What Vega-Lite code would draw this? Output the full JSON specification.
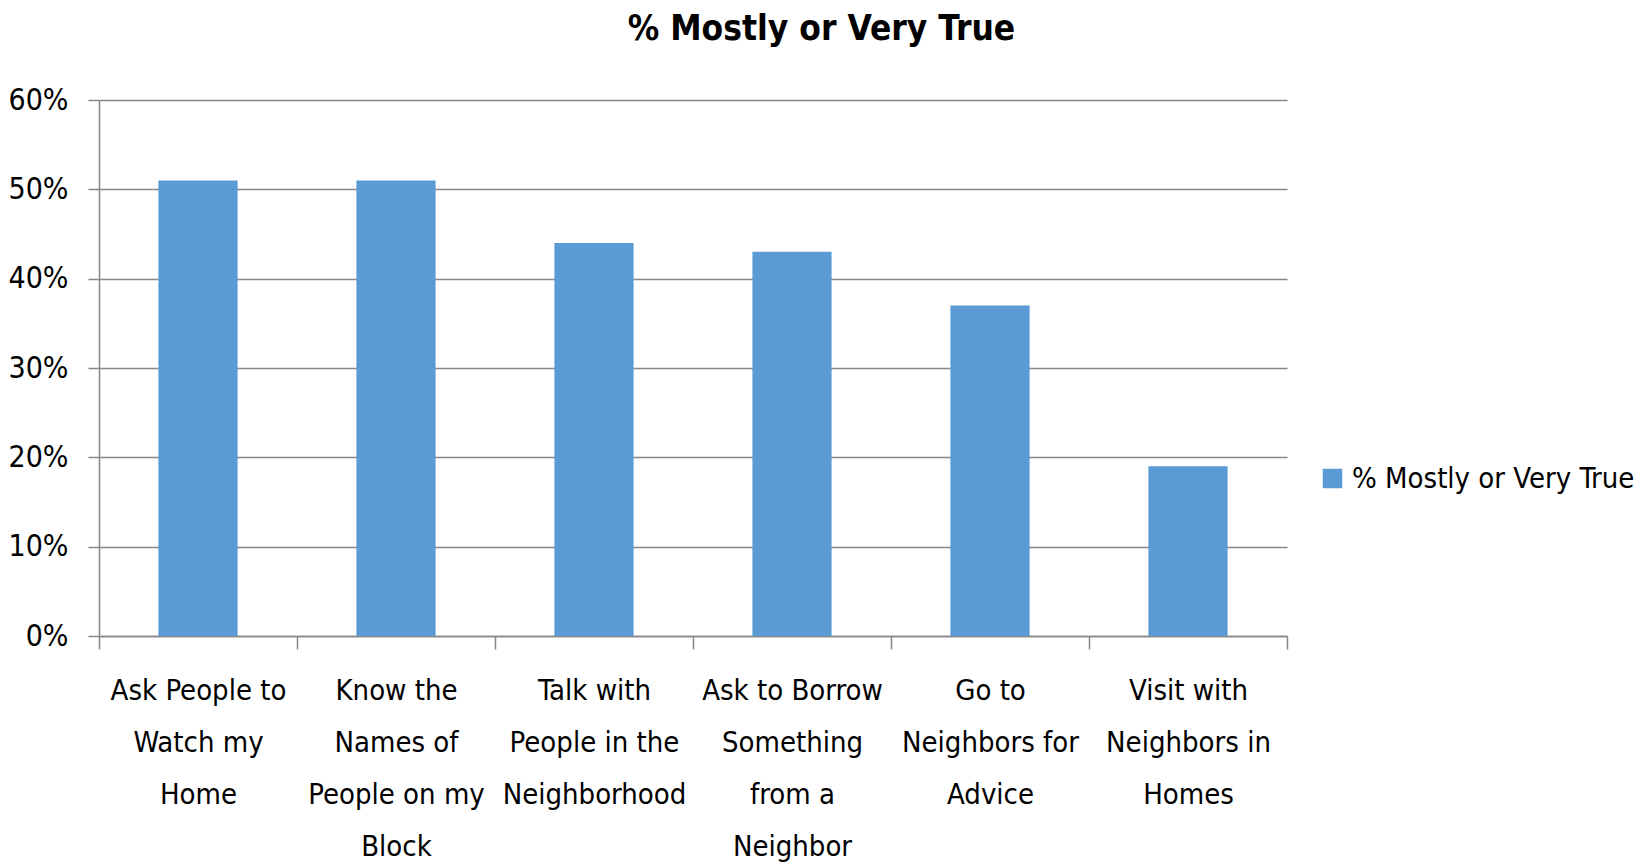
{
  "$schema": "https://vega.github.io/schema/vega-lite/v6.json",
  "width": 1188,
  "height": 536,
  "autosize": {"type": "none"},
  "padding": {"left": 99, "top": 100, "right": 362, "bottom": 231},
  "background": "white",
  "title": {
    "text": "% Mostly or Very True",
    "font": "DejaVu Sans Condensed, Roboto, sans-serif",
    "fontSize": 35,
    "fontWeight": "bold",
    "color": "#000000",
    "anchor": "middle",
    "frame": "bounds",
    "offset": 38
  },
  "data": {
    "values": [
      {"activity": "Ask People to|Watch my|Home", "series": "% Mostly or Very True", "value": 0.51},
      {"activity": "Know the|Names of|People on my|Block", "series": "% Mostly or Very True", "value": 0.51},
      {"activity": "Talk with|People in the|Neighborhood", "series": "% Mostly or Very True", "value": 0.44},
      {"activity": "Ask to Borrow|Something|from a|Neighbor", "series": "% Mostly or Very True", "value": 0.43},
      {"activity": "Go to|Neighbors for|Advice", "series": "% Mostly or Very True", "value": 0.37},
      {"activity": "Visit with|Neighbors in|Homes", "series": "% Mostly or Very True", "value": 0.19}
    ]
  },
  "mark": {"type": "bar", "color": "#5B9BD5", "width": {"band": 0.4}},
  "encoding": {
    "x": {
      "field": "activity",
      "type": "nominal",
      "sort": null,
      "scale": {"paddingInner": 0, "paddingOuter": 0},
      "axis": {
        "title": null,
        "labelAngle": 0,
        "labelExpr": "split(datum.label, '|')",
        "labelFont": "DejaVu Sans Condensed, Roboto, sans-serif",
        "labelFontSize": 29,
        "labelColor": "#000000",
        "labelLineHeight": 52,
        "labelPadding": 27,
        "labelLimit": 300,
        "tickBand": "extent",
        "tickSize": 13,
        "tickColor": "#868686",
        "domainColor": "#868686",
        "domainWidth": 1.5,
        "tickWidth": 1.5
      }
    },
    "y": {
      "field": "value",
      "type": "quantitative",
      "scale": {"domain": [0, 0.6]},
      "axis": {
        "title": null,
        "format": ".0%",
        "values": [0, 0.1, 0.2, 0.3, 0.4, 0.5, 0.6],
        "labelFont": "DejaVu Sans Condensed, Roboto, sans-serif",
        "labelFontSize": 30,
        "labelColor": "#000000",
        "labelPadding": 20,
        "tickSize": 11,
        "tickColor": "#868686",
        "tickWidth": 1.5,
        "domainColor": "#868686",
        "domainWidth": 1.5,
        "grid": true,
        "gridColor": "#868686",
        "gridWidth": 1.5
      }
    },
    "color": {
      "field": "series",
      "type": "nominal",
      "scale": {"range": ["#5B9BD5"]},
      "legend": {
        "title": null,
        "orient": "none",
        "legendX": 1219,
        "legendY": 364,
        "symbolType": "square",
        "symbolSize": 380,
        "symbolStrokeWidth": 0,
        "labelFont": "DejaVu Sans Condensed, Roboto, sans-serif",
        "labelFontSize": 29,
        "labelColor": "#000000",
        "labelLimit": 400,
        "labelOffset": 5
      }
    }
  },
  "config": {"view": {"stroke": null}}
}
